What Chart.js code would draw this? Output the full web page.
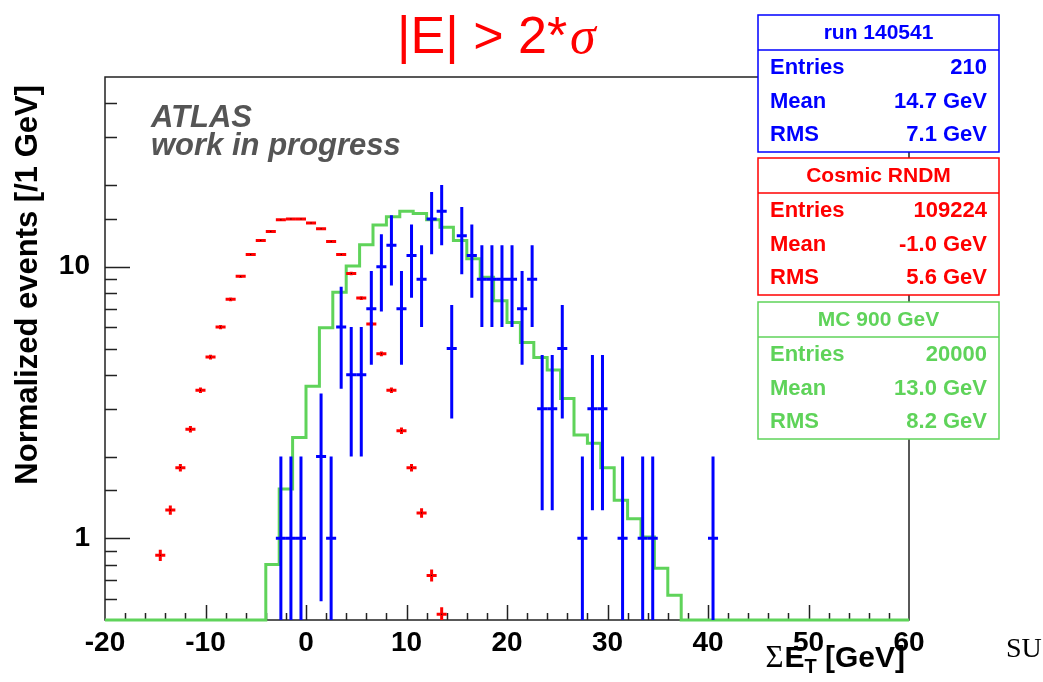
<!DOCTYPE html>
<html>
<head>
<meta charset="utf-8">
<script src="https://cdn.jsdelivr.net/npm/chart.js@4.4.1/dist/chart.umd.min.js"></script>
<style>
  html, body { margin: 0; background: #fff; }
  #wrap { width: 1043px; height: 682px; position: relative; }
</style>
</head>
<body>
<div id="wrap"><canvas id="c"></canvas></div>
<script>
const X_MIN = -20, X_MAX = 60, Y_MIN = 0.5, Y_MAX = 50;
const BIN = 1; // data / cosmic bin width in GeV

// run 140541: raw counts per 1 GeV bin
const dataCenters = [-2.5,-1.5,-0.5,0.5,1.5,2.5,3.5,4.5,5.5,6.5,7.5,8.5,9.5,10.5,11.5,12.5,13.5,14.5,15.5,16.5,17.5,18.5,19.5,20.5,21.5,22.5,23.5,24.5,25.5,26.5,27.5,28.5,29.5,30.5,31.5,32.5,33.5,34.5,35.5,36.5,37.5,38.5,39.5,40.5];
const dataCounts  = [1,1,1,0,2,1,6,4,4,7,10,12,7,11,9,15,16,5,13,11,9,9,9,9,7,9,3,3,5,0,1,3,3,0,1,0,1,1,0,0,0,0,0,1];

// Cosmic RNDM, normalised to the data entries
const cosmicCenters = [-14.5,-13.5,-12.5,-11.5,-10.5,-9.5,-8.5,-7.5,-6.5,-5.5,-4.5,-3.5,-2.5,-1.5,-0.5,0.5,1.5,2.5,3.5,4.5,5.5,6.5,7.5,8.5,9.5,10.5,11.5,12.5,13.5];
const cosmicValues  = [0.866,1.27,1.82,2.52,3.51,4.65,6.0,7.59,9.22,11.1,12.5,13.5,14.9,15.0,15.0,14.5,13.8,12.4,11.1,9.45,7.67,6.15,4.78,3.51,2.49,1.82,1.24,0.73,0.525];

// MC 900 GeV: 4/3 GeV bins, edges and contents
const mcEdges  = [-20,-4,-2.667,-1.333,0,1.333,2.667,4,5.333,6.667,8,9.333,10.667,12,13.333,14.667,16,17.333,18.667,20,21.333,22.667,24,25.333,26.667,28,29.333,30.667,32,33.333,34.667,36,37.333,60];
const mcValues = [0,0.8,1.52,2.35,3.63,5.96,8.05,10.06,12.05,14.25,15.3,16.0,15.7,14.9,13.97,12.5,10.7,9.14,7.5,6.24,5.26,4.63,4.17,3.27,2.40,2.24,1.82,1.38,1.18,1.01,0.775,0.617,0];

const DATA_ENTRIES = 210, COSMIC_ENTRIES = 109224;

const xTicks = [-20,-10,0,10,20,30,40,50,60];
const yTicks = [1,10];

const statBoxes = [
  { title: 'run 140541', color: '#0000ff', rows: [['Entries','210'],['Mean','14.7 GeV'],['RMS','7.1 GeV']] },
  { title: 'Cosmic RNDM', color: '#ff0000', rows: [['Entries','109224'],['Mean','-1.0 GeV'],['RMS','5.6 GeV']] },
  { title: 'MC 900 GeV', color: '#5fd35a', rows: [['Entries','20000'],['Mean','13.0 GeV'],['RMS','8.2 GeV']] }
];

const SANS = '"Liberation Sans", Arial, Helvetica, sans-serif';
const SERIF = '"Liberation Serif", "Times New Roman", serif';

// bin markers: horizontal bar over the bin, vertical bar for the error
const errorBars = {
  id: 'errorBars',
  afterDatasetsDraw(chart) {
    const { ctx, chartArea: a, scales: { x, y } } = chart;
    ctx.save();
    ctx.beginPath();
    ctx.rect(a.left, a.top, a.right - a.left, a.bottom - a.top);
    ctx.clip();
    chart.data.datasets.forEach(ds => {
      if (!ds.errors) return;
      ctx.strokeStyle = ds.borderColor;
      ctx.lineWidth = ds.markWidth;
      ds.data.forEach((p, i) => {
        const px = x.getPixelForValue(p.x), py = y.getPixelForValue(p.y);
        const lo = p.y - ds.errors[i];
        const pyLo = lo > 0 ? y.getPixelForValue(lo) : a.bottom + 2;
        const pyHi = y.getPixelForValue(p.y + ds.errors[i]);
        ctx.beginPath();
        ctx.moveTo(x.getPixelForValue(p.x - BIN / 2), py);
        ctx.lineTo(x.getPixelForValue(p.x + BIN / 2), py);
        ctx.moveTo(px, pyHi);
        ctx.lineTo(px, pyLo);
        ctx.stroke();
        if (ds.centerDot) {
          ctx.fillStyle = '#000';
          ctx.fillRect(px - 0.5, py - 0.5, 1, 1);
        }
      });
    });
    ctx.restore();
  }
};

// frame with inward ticks, like a ROOT pad
const frame = {
  id: 'frame',
  beforeDatasetsDraw(chart) {
    const { ctx, chartArea: a, scales: { x, y } } = chart;
    ctx.save();
    ctx.strokeStyle = '#222';
    ctx.lineWidth = 1.5;
    ctx.strokeRect(a.left, a.top, a.right - a.left, a.bottom - a.top);
    ctx.beginPath();
    y.ticks.forEach(t => {
      const py = Math.round(y.getPixelForValue(t.value)) + 0.5;
      if (py <= a.top + 1 || py >= a.bottom - 1) return;
      const len = yTicks.includes(t.value) ? 25 : 12;
      ctx.moveTo(a.left, py);
      ctx.lineTo(a.left + len, py);
    });
    x.ticks.forEach(t => {
      const px = Math.round(x.getPixelForValue(t.value)) + 0.5;
      if (px <= a.left + 1 || px >= a.right - 1) return;
      const len = xTicks.includes(t.value) ? 15 : 7;
      ctx.moveTo(px, a.bottom);
      ctx.lineTo(px, a.bottom - len);
    });
    ctx.stroke();
    ctx.restore();
  }
};

// titles, axis titles and statistics boxes
const annotations = {
  id: 'annotations',
  afterDraw(chart) {
    const { ctx, chartArea: a } = chart;
    ctx.save();

    // main title
    ctx.fillStyle = '#ff0000';
    ctx.textBaseline = 'alphabetic';
    ctx.textAlign = 'left';
    ctx.font = `52px ${SANS}`;
    const head = '|E| > 2*';
    ctx.fillText(head, 397, 53);
    const hw = ctx.measureText(head).width;
    ctx.font = `italic 52px ${SERIF}`;
    ctx.fillText('\u03c3', 397 + hw + 3, 53);

    // ATLAS label
    ctx.fillStyle = '#555555';
    ctx.font = `italic bold 31px ${SANS}`;
    ctx.fillText('ATLAS', 151, 127);
    ctx.fillText('work in progress', 151, 155);

    // y axis title
    ctx.fillStyle = '#000';
    ctx.save();
    ctx.translate(28, 85);
    ctx.rotate(-Math.PI / 2);
    ctx.textAlign = 'right';
    ctx.textBaseline = 'middle';
    ctx.font = `bold 31px ${SANS}`;
    ctx.fillText('Normalized events [/1 GeV]', 0, 0);
    ctx.restore();

    // x axis title: ΣE_T [GeV], right aligned to the axis end
    const base = 667;
    ctx.font = `bold 30px ${SANS}`;
    const wE = ctx.measureText('E').width;
    const wRest = ctx.measureText(' [GeV]').width;
    ctx.font = `31px ${SERIF}`;
    const wS = ctx.measureText('\u03a3').width;
    ctx.font = `bold 20px ${SANS}`;
    const wT = ctx.measureText('T').width;
    let cx = a.right - 2 - (wS + wE + wT + wRest) - 3;
    ctx.font = `31px ${SERIF}`;
    ctx.fillText('\u03a3', cx, base); cx += wS + 1;
    ctx.font = `bold 30px ${SANS}`;
    ctx.fillText('E', cx, base); cx += wE;
    ctx.font = `bold 20px ${SANS}`;
    ctx.fillText('T', cx, base + 6); cx += wT;
    ctx.font = `bold 30px ${SANS}`;
    ctx.fillText(' [GeV]', cx, base);

    // stray slide text at the right edge
    ctx.font = `28px ${SERIF}`;
    ctx.fillText('SU', 1006, 657);

    // statistics boxes
    const bx = 758, bw = 241, bh = 137;
    const tops = [15, 158, 302];
    statBoxes.forEach((b, k) => {
      const top = tops[k];
      ctx.fillStyle = '#fff';
      ctx.fillRect(bx, top, bw, bh);
      ctx.strokeStyle = b.color;
      ctx.lineWidth = 1.5;
      ctx.strokeRect(bx, top, bw, bh);
      ctx.beginPath();
      ctx.moveTo(bx, top + 35);
      ctx.lineTo(bx + bw, top + 35);
      ctx.stroke();
      ctx.fillStyle = b.color;
      ctx.textBaseline = 'middle';
      ctx.font = `bold 21px ${SANS}`;
      ctx.textAlign = 'center';
      ctx.fillText(b.title, bx + bw / 2, top + 18);
      ctx.font = `bold 22px ${SANS}`;
      b.rows.forEach((r, i) => {
        const ry = top + 53 + i * 33.5;
        ctx.textAlign = 'left';
        ctx.fillText(r[0], 770, ry);
        ctx.textAlign = 'right';
        ctx.fillText(r[1], 987, ry);
      });
    });
    ctx.restore();
  }
};

const dataPoints = [], dataErrors = [];
dataCenters.forEach((c, i) => {
  if (dataCounts[i] > 0) {
    dataPoints.push({ x: c, y: dataCounts[i] });
    dataErrors.push(Math.sqrt(dataCounts[i]));
  }
});

const cosmicNorm = DATA_ENTRIES / COSMIC_ENTRIES;
const cosmicPoints = cosmicCenters.map((c, i) => ({ x: c, y: cosmicValues[i] }));
const cosmicErrors = cosmicValues.map(v => Math.sqrt(v * cosmicNorm));

// empty MC bins sit on the lower edge of the frame
const mcPoints = mcEdges.slice(0, -1).map((e, i) => ({ x: e, y: Math.max(mcValues[i], Y_MIN) }));
mcPoints.push({ x: mcEdges[mcEdges.length - 1], y: Math.max(mcValues[mcValues.length - 1], Y_MIN) });

const tickFont = { family: SANS, size: 28, weight: 'bold' };

new Chart(document.getElementById('c'), {
  type: 'scatter',
  data: {
    datasets: [
      { label: 'MC 900 GeV', data: mcPoints, showLine: true, stepped: 'before',
        borderColor: '#5fd35a', borderWidth: 3, pointRadius: 0, clip: false },
      { label: 'Cosmic RNDM', data: cosmicPoints, errors: cosmicErrors, markWidth: 3, centerDot: true,
        borderColor: '#ff0000', pointRadius: 0 },
      { label: 'run 140541', data: dataPoints, errors: dataErrors, markWidth: 3,
        borderColor: '#0000ff', pointRadius: 0 }
    ]
  },
  options: {
    animation: false,
    responsive: true,
    maintainAspectRatio: false,
    devicePixelRatio: 1,
    layout: { padding: { top: 77, right: 134, left: 0, bottom: 0 } },
    plugins: { legend: { display: false }, tooltip: { enabled: false } },
    scales: {
      x: {
        type: 'linear', min: X_MIN, max: X_MAX,
        grid: { display: false, drawTicks: false },
        border: { display: false },
        ticks: {
          stepSize: 2, autoSkip: false, maxRotation: 0, padding: 6,
          color: '#000', font: tickFont,
          callback: v => xTicks.includes(v) ? String(v) : ''
        },
        afterFit: s => { s.height = 62; }
      },
      y: {
        type: 'logarithmic', min: Y_MIN, max: Y_MAX,
        grid: { display: false, drawTicks: false },
        border: { display: false },
        ticks: {
          autoSkip: false, padding: 15, color: '#000', font: tickFont,
          callback: v => yTicks.includes(v) ? String(v) : ''
        },
        afterFit: s => { s.width = 105; }
      }
    }
  },
  plugins: [frame, errorBars, annotations]
});
</script>
</body>
</html>
